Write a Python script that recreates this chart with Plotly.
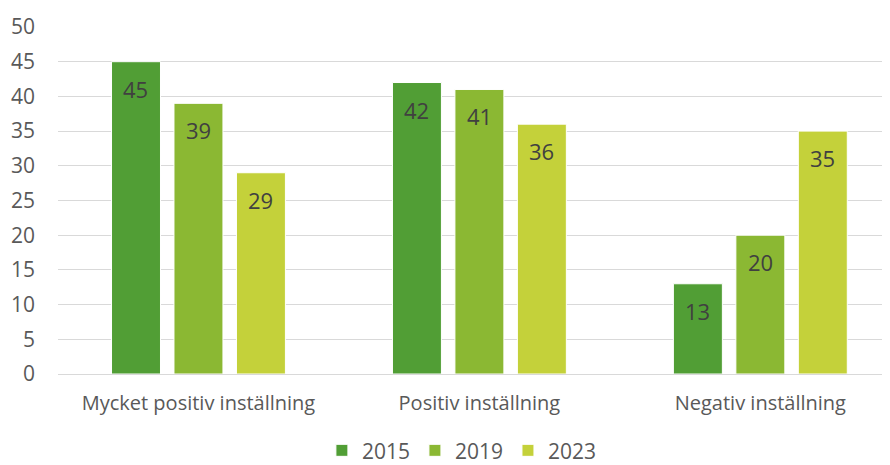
import plotly.graph_objects as go

categories = ["Mycket positiv inställning", "Positiv inställning", "Negativ inställning"]
years = ["2015", "2019", "2023"]
values_2015 = [45, 42, 13]
values_2019 = [39, 41, 20]
values_2023 = [29, 36, 35]
colors = ["#519E35", "#8BB833", "#C4D13A"]

FONT = "Open Sans"
series = [values_2015, values_2019, values_2023]

fig = go.Figure()
for name, vals, col in zip(years, series, colors):
    fig.add_trace(go.Bar(
        name=name, x=categories, y=vals,
        marker=dict(color=col, line=dict(color="white", width=1)),
    ))

# value labels placed at each bar's value, shifted into the bar
slot = 62.5
for i, vals in enumerate(series):
    for cat, v in zip(categories, vals):
        fig.add_annotation(x=cat, y=v, text=str(v), showarrow=False,
                           xshift=(i - 1) * slot, yshift=-27,
                           font=dict(family=FONT, size=22, color="#404040"))

fig.update_layout(
    width=890, height=465,
    margin=dict(l=50, r=0, t=19, b=99),
    paper_bgcolor="white", plot_bgcolor="white",
    barmode="group", bargap=0.333, bargroupgap=0.216,
    font=dict(family=FONT, size=21, color="#595959"),
    legend=dict(orientation="h", xref="container", yref="container",
                x=0.51, xanchor="center", y=0.048, yanchor="middle",
                font=dict(family=FONT, size=21, color="#595959"), itemwidth=30, tracegroupgap=0),
)
fig.update_yaxes(range=[0, 50], dtick=5, showgrid=True, gridcolor="#D9D9D9", gridwidth=1,
                 zeroline=True, zerolinecolor="#D9D9D9", zerolinewidth=1, automargin=False,
                 ticks="", tickfont=dict(family=FONT, size=21, color="#595959"), ticklabelstandoff=22)
fig.update_xaxes(range=[-0.5, 2.49], showline=False, ticks="", automargin=False,
                 tickfont=dict(family=FONT, size=20, color="#595959"), ticklabelstandoff=15)

fig.write_html("out.html")
